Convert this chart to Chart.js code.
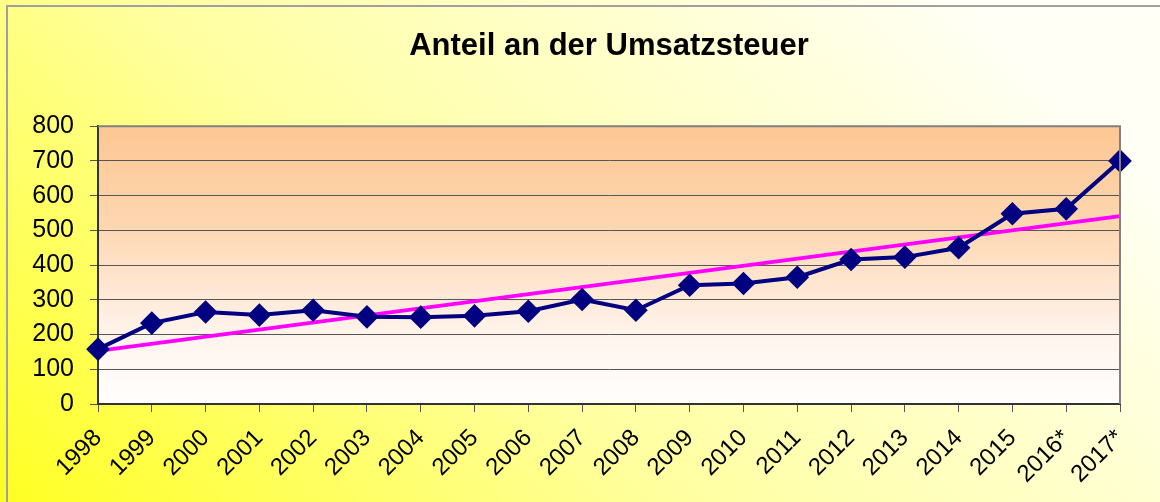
<!DOCTYPE html>
<html>
<head>
<meta charset="utf-8">
<script src="https://cdn.jsdelivr.net/npm/chart.js@4/dist/chart.umd.min.js"></script>
<style>
    html, body { margin: 0; padding: 0; background: #ffffff; }
    #wrap { width: 1160px; height: 502px; position: relative; }
</style>
</head>
<body>
<div id="wrap"><canvas id="chart-umsatz"></canvas></div>
<script>
// Daten
var jahre = ['1998', '1999', '2000', '2001', '2002', '2003', '2004', '2005', '2006', '2007',
    '2008', '2009', '2010', '2011', '2012', '2013', '2014', '2015', '2016*', '2017*'];
var anteil = [158, 233, 265, 256, 270, 251, 250, 254, 267, 301,
    270, 342, 347, 365, 416, 423, 450, 548, 562, 700];
// Trendlinie: nur Anfangs- und Endwert, dazwischen leer
var trend = [153, null, null, null, null, null, null, null, null, null,
    null, null, null, null, null, null, null, null, null, 541];
var yTicks = [0, 100, 200, 300, 400, 500, 600, 700, 800];

// Hintergründe zeichnen (Diagrammfläche + Zeichnungsfläche)
var hintergrund = {
    id: 'hintergrund',
    beforeDraw: function (chart) {
        var ctx = chart.ctx;
        var w = chart.width, h = chart.height;
        var a = chart.chartArea;
        ctx.save();
        var g = ctx.createLinearGradient(0, h, 700, -250);
        g.addColorStop(0, '#ffff22');
        g.addColorStop(0.45, '#ffffa0');
        g.addColorStop(1, '#fffff6');
        ctx.fillStyle = g;
        ctx.fillRect(0, 0, w, h);

        // Rahmen oben/links
        ctx.strokeStyle = '#a0a0a0';
        ctx.lineWidth = 2;
        ctx.beginPath();
        ctx.moveTo(7, h);
        ctx.lineTo(7, 6);
        ctx.lineTo(w, 6);
        ctx.stroke();

        var pg = ctx.createLinearGradient(0, a.top, 0, a.bottom);
        pg.addColorStop(0, '#fdc793');
        pg.addColorStop(0.35, '#fdd6b0');
        pg.addColorStop(0.75, '#fff4ec');
        pg.addColorStop(1, '#ffffff');
        ctx.fillStyle = pg;
        ctx.fillRect(a.left, a.top, a.right - a.left, a.bottom - a.top);
        ctx.restore();
    },
    afterDatasetsDraw: function (chart) {
        var ctx = chart.ctx;
        var a = chart.chartArea;
        ctx.save();
        ctx.strokeStyle = '#808080';
        ctx.lineWidth = 2;
        ctx.beginPath();
        ctx.moveTo(a.left, a.top);
        ctx.lineTo(a.right, a.top);
        ctx.lineTo(a.right, a.bottom);
        ctx.stroke();
        ctx.restore();
    }
};

var ctx_umsatz = document.getElementById('chart-umsatz');

var chartUmsatz = new Chart(ctx_umsatz, {
    type: 'line',
    data: {
        labels: jahre,
        datasets: [
            {
                label: 'Anteil',
                data: anteil,
                borderColor: '#000080',
                backgroundColor: '#000080',
                borderWidth: 4,
                pointStyle: 'rectRot',
                pointRadius: 9,
                pointHoverRadius: 9,
                tension: 0,
                order: 1
            },
            {
                label: 'Trend',
                data: trend,
                borderColor: '#ff00ff',
                borderWidth: 4,
                pointRadius: 0,
                spanGaps: true,
                tension: 0,
                order: 2
            }
        ]
    },
    options: {
        responsive: true,
        maintainAspectRatio: false,
        animation: false,
        layout: {
            padding: { left: 0, right: 40, top: 0, bottom: 0 }
        },
        plugins: {
            legend: { display: false },
            tooltip: { enabled: false },
            title: {
                display: true,
                fullSize: false,
                text: 'Anteil an der Umsatzsteuer',
                color: '#000000',
                font: { family: 'Liberation Sans, Arial, sans-serif', size: 31, weight: 'bold' },
                padding: { top: 28, bottom: 61 }
            }
        },
        scales: {
            x: {
                offset: false,
                grid: {
                    display: true,
                    drawOnChartArea: false,
                    drawTicks: true,
                    tickLength: 8,
                    color: '#555555'
                },
                border: { display: true, color: '#333333', width: 2 },
                ticks: {
                    color: '#000000',
                    minRotation: 45,
                    maxRotation: 45,
                    autoSkip: false,
                    padding: 12,
                    font: { family: 'Liberation Sans, Arial, sans-serif', size: 24 }
                },
                afterFit: function (scale) { scale.height = 98; }
            },
            y: {
                min: 0,
                max: 800,
                afterBuildTicks: function (scale) {
                    scale.ticks = yTicks.map(function (v) { return { value: v }; });
                },
                grid: {
                    color: '#555555',
                    lineWidth: 1,
                    tickLength: 8
                },
                border: { display: true, color: '#333333', width: 2 },
                ticks: {
                    color: '#000000',
                    padding: 16,
                    font: { family: 'Liberation Sans, Arial, sans-serif', size: 25 }
                },
                afterFit: function (scale) { scale.width = 98; }
            }
        }
    },
    plugins: [hintergrund]
});
</script>
</body>
</html>
